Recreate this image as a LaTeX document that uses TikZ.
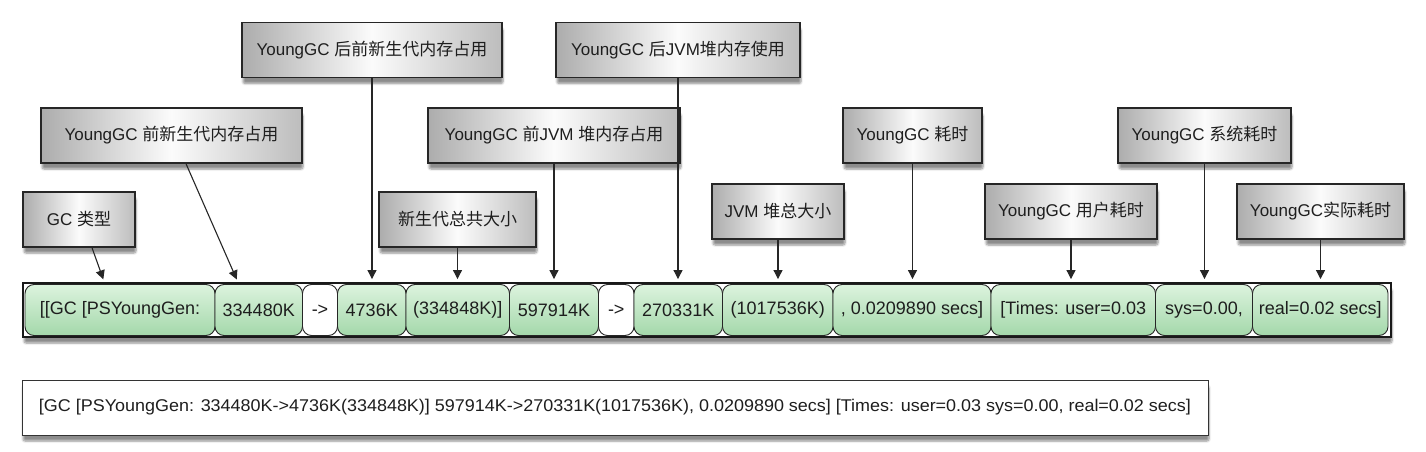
\documentclass[tikz,border=0pt]{standalone}
\usepackage{fontspec}
\setmainfont{Liberation Sans}
\newfontfamily\cjk{Noto Sans CJK SC}
\usetikzlibrary{shadows,shadows.blur,arrows.meta}
\definecolor{cellTop}{RGB}{220,243,222}
\definecolor{cellBot}{RGB}{164,216,170}
\definecolor{txt}{RGB}{30,30,30}
\tikzset{
  shad/.style={blur shadow={shadow xshift=1pt, shadow yshift=-6pt, shadow blur steps=6, shadow blur extra rounding=2pt, shadow opacity=45}},
  lbl/.style={draw=black!85, line width=1.4pt, left color=gray!65, right color=gray!52, middle color=gray!3,
    shad, minimum height=55pt, inner sep=0pt, text=txt, font=\fontsize{17}{20}\selectfont},
  cell/.style={draw=black!85, line width=0.9pt, rounded corners=9pt, top color=cellTop, bottom color=cellBot,
    minimum height=51pt, inner sep=0pt, text=txt, font=\fontsize{18}{21}\selectfont},
  wcell/.style={cell, top color=white, bottom color=white},
  arr/.style={line width=1.1pt, black!85, -{Triangle[width=9pt,length=9pt]}, shorten >=5pt},
}
\begin{document}
\begin{tikzpicture}[x=1pt,y=-1pt]
\useasboundingbox (0,0) rectangle (1426,452);
% label boxes
\node[lbl, minimum width=112pt] (gc) at (79,219.5) {GC {\cjk 类型}};
\node[lbl, minimum width=261pt] (yq) at (171.5,135.5) {YoungGC {\cjk 前新生代内存占用}};
\node[lbl, minimum width=260pt] (yh) at (372,50) {YoungGC {\cjk 后前新生代内存占用}};
\node[lbl, minimum width=157pt] (xs) at (457.5,219.5) {\cjk 新生代总共大小};
\node[lbl, minimum width=252pt] (jq) at (554,135.5) {YoungGC {\cjk 前}JVM {\cjk 堆内存占用}};
\node[lbl, minimum width=244pt] (jh) at (678,50) {YoungGC {\cjk 后}JVM{\cjk 堆内存使用}};
\node[lbl, minimum width=132pt] (jz) at (778,211.5) {JVM {\cjk 堆总大小}};
\node[lbl, minimum width=139pt] (hs) at (912.5,135.5) {YoungGC {\cjk 耗时}};
\node[lbl, minimum width=172pt] (yu) at (1071,211.5) {YoungGC {\cjk 用户耗时}};
\node[lbl, minimum width=173pt] (xt) at (1204.5,135.5) {YoungGC {\cjk 系统耗时}};
\node[lbl, minimum width=167pt] (sj) at (1320.5,211.5) {YoungGC{\cjk 实际耗时}};
% bar
\node[draw=black!90, line width=1.3pt, fill=white, minimum width=1368pt, minimum height=54pt, inner sep=0pt, shad] (bar) at (707,310) {};
\node[cell, minimum width=190pt] (c1) at (120,310) {[[GC [PSYoungGen:};
\node[cell, minimum width=87.5pt] (c2) at (258.75,310) {334480K};
\node[wcell, minimum width=35pt] (c3) at (320,310) {->};
\node[cell, minimum width=68.5pt] (c4) at (371.75,310) {4736K};
\node[cell, minimum width=103.5pt] (c5) at (457.75,310) {(334848K)]};
\node[cell, minimum width=89pt] (c6) at (554,310) {597914K};
\node[wcell, minimum width=35.5pt] (c7) at (616.25,310) {->};
\node[cell, minimum width=88.5pt] (c8) at (678.25,310) {270331K};
\node[cell, minimum width=110.5pt] (c9) at (777.75,310) {(1017536K)};
\node[cell, minimum width=158pt] (c10) at (912,310) {, 0.0209890 secs]};
\node[cell, minimum width=164.5pt] (c11) at (1073.25,310) {[Times: user=0.03};
\node[cell, minimum width=97pt] (c12) at (1204,310) {sys=0.00,};
\node[cell, minimum width=135.5pt] (c13) at (1320.25,310) {real=0.02 secs]};
% bottom box
\node[draw=black!80, line width=0.9pt, fill=white, minimum width=1186pt, minimum height=55pt, inner sep=0pt, shad, text=txt] (full) at (615,407.5)
  {\resizebox{1152pt}{\height}{\fontsize{17}{20}\selectfont [GC [PSYoungGen: 334480K->4736K(334848K)] 597914K->270331K(1017536K), 0.0209890 secs] [Times: user=0.03 sys=0.00, real=0.02 secs]}};
% connectors
\draw[arr] ([xshift=13pt]gc.south) -- ([xshift=-15pt]c1.north);
\draw[arr] ([xshift=14.5pt]yq.south) -- ([xshift=-20pt]c2.north);
\draw[arr] (yh.south) -- (yh.south |- c4.north);
\draw[arr] (xs.south) -- (xs.south |- c5.north);
\draw[arr] (jq.south) -- (jq.south |- c6.north);
\draw[arr] (jh.south) -- (jh.south |- c8.north);
\draw[arr] (jz.south) -- (jz.south |- c9.north);
\draw[arr] (hs.south) -- (hs.south |- c10.north);
\draw[arr] (yu.south) -- (yu.south |- c11.north);
\draw[arr] (xt.south) -- (xt.south |- c12.north);
\draw[arr] (sj.south) -- (sj.south |- c13.north);
\end{tikzpicture}
\end{document}
